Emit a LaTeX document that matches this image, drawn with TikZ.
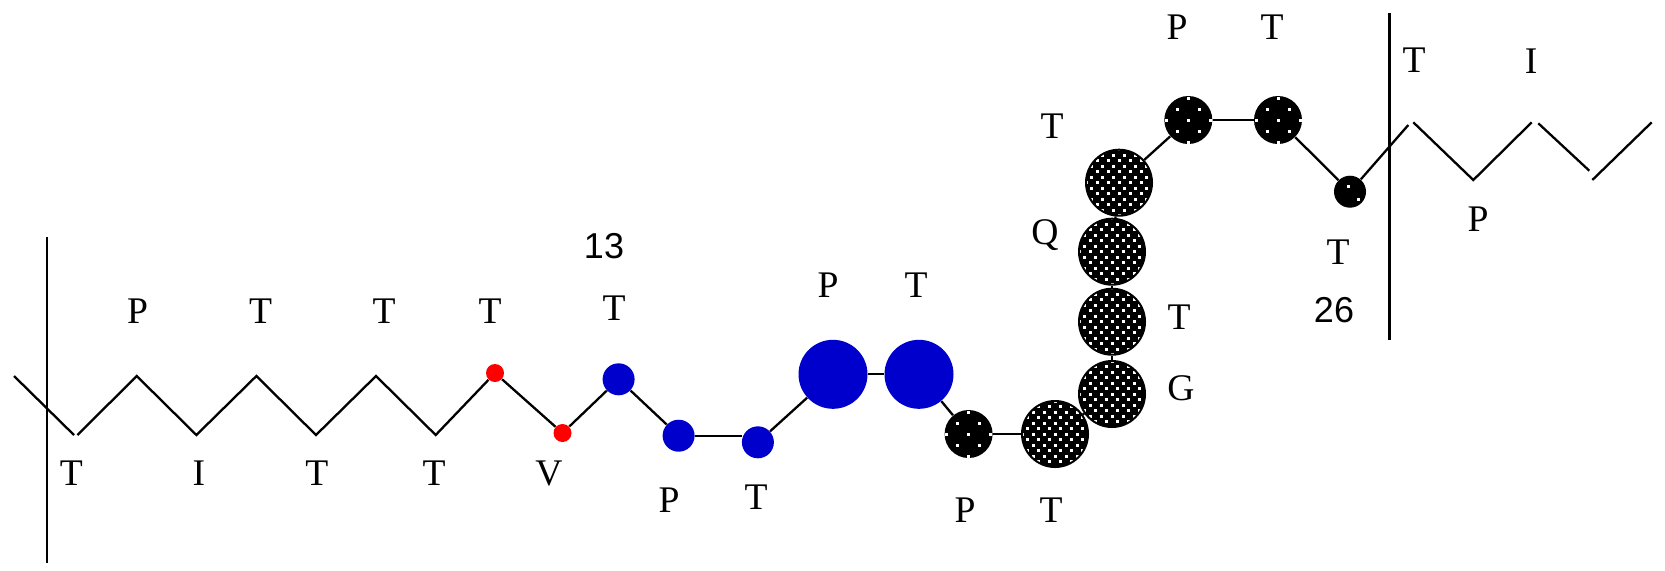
\documentclass[tikz,border=0pt]{standalone}
\usepackage{fontspec}
\setmainfont{Liberation Serif}
\newfontfamily\numfont{Liberation Sans}
\definecolor{resblue}{RGB}{0,0,204}
\begin{document}
\begin{tikzpicture}[x=0.5pt,y=-0.5pt,
  bond/.style={line width=1.15pt},
  bar/.style={line width=1.25pt},
  lbl/.style={inner sep=0pt, anchor=base, font=\fontsize{18.8}{20}\selectfont},
  num/.style={inner sep=0pt, anchor=base, font=\numfont\fontsize{18}{20}\selectfont},
  reddot/.style={circle, fill=red, inner sep=0pt, minimum size=9pt},
  bluesmall/.style={circle, fill=resblue, inner sep=0pt, minimum size=16pt},
  bluebig/.style={circle, fill=resblue, inner sep=0pt, minimum size=34.5pt},
  % black disc with a sparse lattice of white dots
  sparse/.style={circle, fill=black, inner sep=0pt, minimum size=24pt,
    path picture={\foreach \a in {-2,...,2}{\foreach \b in {-2,...,2}{
      \fill[white] ([shift={(\a*22-1.5,\b*22-1.5)}]path picture bounding box.center) rectangle ++(3,3);
      \fill[white] ([shift={(\a*22+9.5,\b*22+9.5)}]path picture bounding box.center) rectangle ++(3,3);
    }}}},
  % black disc with a dense lattice of white dots
  dense/.style={circle, draw=black, line width=1pt, fill=black, inner sep=0pt, minimum size=33pt,
    path picture={\foreach \a in {-4,...,4}{\foreach \b in {-4,...,4}{
      \fill[white] ([shift={(\a*11-1.5,\b*11-1.5)}]path picture bounding box.center) rectangle ++(3,3);
      \fill[white] ([shift={(\a*11+4,\b*11+4)}]path picture bounding box.center) rectangle ++(3,3);
    }}}},
  tinydisc/.style={circle, fill=black, inner sep=0pt, minimum size=16pt,
    path picture={
      \fill[white] ([shift={(-3.5,-6.5)}]path picture bounding box.center) rectangle ++(3,3);
      \fill[white] ([shift={(6.5,6.5)}]path picture bounding box.center) rectangle ++(3,3);
    }}
]
\useasboundingbox (0,0) rectangle (1665,570);

% boundary bars
\coordinate (lt) at (47,237);
\coordinate (lb) at (47,563);
\coordinate (rt) at (1389.3,13);
\coordinate (rb) at (1389.3,340);
\draw[bar] (lt) -- (lb);
\draw[bar] (rt) -- (rb);

% left zigzag vertices
\coordinate (z0) at (14,376);
\coordinate (z1) at (74,435);
\coordinate (z1b) at (77.5,435);
\coordinate (z2) at (136.7,376);
\coordinate (z3) at (196.4,435);
\coordinate (z4) at (256.4,376);
\coordinate (z5) at (316,435);
\coordinate (z6) at (376,376);
\coordinate (z7) at (435.7,435);

% right zigzag vertices
\coordinate (y1) at (1408.3,125);
\coordinate (y1b) at (1413.3,122.3);
\coordinate (y2) at (1473.3,180);
\coordinate (y3) at (1531.7,122.3);
\coordinate (y3b) at (1538.3,123.3);
\coordinate (y4) at (1589.3,170.7);
\coordinate (y4b) at (1592.3,180);
\coordinate (y5) at (1651.7,122.3);

% residues
\node[reddot] (r1) at (495,373) {};
\node[reddot] (r2) at (562.5,433) {};
\node[bluesmall] (b1) at (618.6,379.3) {};
\node[bluesmall] (b2) at (678.6,435.7) {};
\node[bluesmall] (b3) at (757.9,442.3) {};
\node[bluebig] (b4) at (833,374.3) {};
\node[bluebig] (b5) at (919,374.3) {};
\node[sparse] (k1) at (968.6,434) {};
\node[dense] (d1) at (1055,434) {};
\node[dense] (d2) at (1112,394) {};
\node[dense] (d3) at (1112,321.7) {};
\node[dense] (d4) at (1112,251.7) {};
\node[dense] (d5) at (1119,182.7) {};
\node[sparse] (k2) at (1188.3,120) {};
\node[sparse] (k3) at (1278,120) {};
\node[tinydisc] (k4) at (1350,191.7) {};

% backbone
\draw[bond] (z0) -- (z1);
\draw[bond] (z1b) -- (z2) -- (z3) -- (z4) -- (z5) -- (z6) -- (z7) -- (r1);
\draw[bond] (r1) -- (r2);
\draw[bond] (r2) -- (b1);
\draw[bond] (b1) -- (b2);
\draw[bond] (b2.east) -- (b2.east -| b3.west);
\draw[bond] (b3) -- (b4);
\draw[bond] (b4) -- (b5);
\draw[bond] (b5) -- (k1);
\draw[bond] (k1) -- (d1);
\draw[bond] (d1) -- (d2);
\draw[bond] (d2) -- (d3);
\draw[bond] (d3) -- (d4);
\draw[bond] (d4) -- (d5);
\draw[bond] (d5) -- (k2);
\draw[bond] (k2) -- (k3);
\draw[bond] (k3) -- (k4);
\draw[bond] (k4) -- (y1);
\draw[bond] (y1b) -- (y2) -- (y3);
\draw[bond] (y3b) -- (y4);
\draw[bond] (y4b) -- (y5);

% residue letters
\node[lbl] (t1) at (137.5,323.5) {P};
\node[lbl] (t2) at (260.7,323.5) {T};
\node[lbl] (t3) at (384,323.5) {T};
\node[lbl] (t4) at (490,323.5) {T};
\node[lbl] (t5) at (71.4,485) {T};
\node[lbl] (t6) at (199,485) {I};
\node[lbl] (t7) at (316.8,485) {T};
\node[lbl] (t8) at (434,485) {T};
\node[lbl] (t9) at (549,485) {V};
\node[num] (n13) at (604,258) {13};
\node[lbl] (t10) at (614,320.5) {T};
\node[lbl] (t11) at (669,512) {P};
\node[lbl] (t12) at (756,509) {T};
\node[lbl] (t13) at (828,297) {P};
\node[lbl] (t14) at (916,297) {T};
\node[lbl] (t15) at (965,522.5) {P};
\node[lbl] (t16) at (1051,522.5) {T};
\node[lbl] (t17) at (1181,400.5) {G};
\node[lbl] (t18) at (1179,329.5) {T};
\node[lbl] (t19) at (1045,244.5) {Q};
\node[lbl] (t20) at (1052,138.5) {T};
\node[lbl] (t21) at (1177,39.5) {P};
\node[lbl] (t22) at (1272,39.5) {T};
\node[lbl] (t23) at (1338,264.5) {T};
\node[num] (n26) at (1334,322) {26};
\node[lbl] (t24) at (1414,72.5) {T};
\node[lbl] (t25) at (1531,73.5) {I};
\node[lbl] (t26) at (1478,231.5) {P};
\end{tikzpicture}
\end{document}
